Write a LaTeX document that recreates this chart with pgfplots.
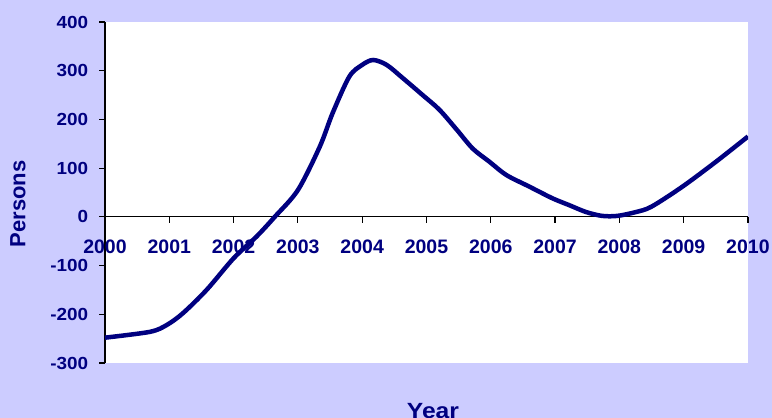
\documentclass[border=0pt]{standalone}
\usepackage{pgfplots}
\pgfplotsset{compat=1.18}
\usepackage{fontspec}
\setmainfont{Liberation Sans}
\definecolor{bgl}{HTML}{CCCCFF}
\definecolor{navy}{HTML}{000080}
\begin{document}
\begin{tikzpicture}[x=1pt,y=1pt]
\clip (0,0) rectangle (772,418);
\fill[bgl] (0,0) rectangle (772,418);
\begin{axis}[
  at={(105pt,55pt)}, anchor=south west,
  scale only axis, width=643pt, height=341pt,
  xmin=2000, xmax=2010, ymin=-300, ymax=400,
  axis background/.style={fill=white},
  axis x line=middle, axis y line=left,
  axis line style={-, black, line width=1.2pt},
  tick align=outside,
  major tick length=6pt,
  tick style={black, line width=1.2pt},
  hide obscured x ticks=false,
  xtick={2000,...,2010}, ytick={-300,-200,...,400},
  xticklabels={2000,2001,2002,2003,2004,2005,2006,2007,2008,2009,2010},
  xticklabel style={font=\fontsize{19.5}{20}\selectfont\bfseries, text=navy, yshift=-13pt},
  yticklabel style={font=\fontsize{17.5}{20}\selectfont\bfseries, text=navy, xshift=-7pt, xscale=1.08},
  /pgf/number format/assume math mode=true,
  scaled ticks=false,
  clip=true,
]
\addplot[navy, line width=4.5pt, smooth, tension=0.5] coordinates {
(2000.0,-248) (2000.7,-236) (2000.96,-222) (2001.21,-198) (2001.58,-150)
(2002.0,-85) (2002.36,-40) (2002.64,0) (2003.0,55) (2003.34,144)
(2003.54,213) (2003.8,288) (2004.0,312) (2004.17,322) (2004.38,312)
(2004.63,285) (2004.94,250) (2005.2,220) (2005.47,179) (2005.72,140)
(2005.98,113) (2006.24,86) (2006.6,62) (2006.96,38) (2007.22,24)
(2007.48,10) (2007.73,2) (2007.97,2) (2008.26,10) (2008.5,21)
(2008.98,62) (2009.5,113) (2010.0,165)
};
\end{axis}
\node[rotate=90, text=navy, font=\fontsize{22}{24}\selectfont\bfseries] at (18,214) {Persons};
\node[anchor=base, text=navy, font=\fontsize{22}{24}\selectfont\bfseries, xscale=1.12] at (433,-1) {Year};
\end{tikzpicture}
\end{document}
